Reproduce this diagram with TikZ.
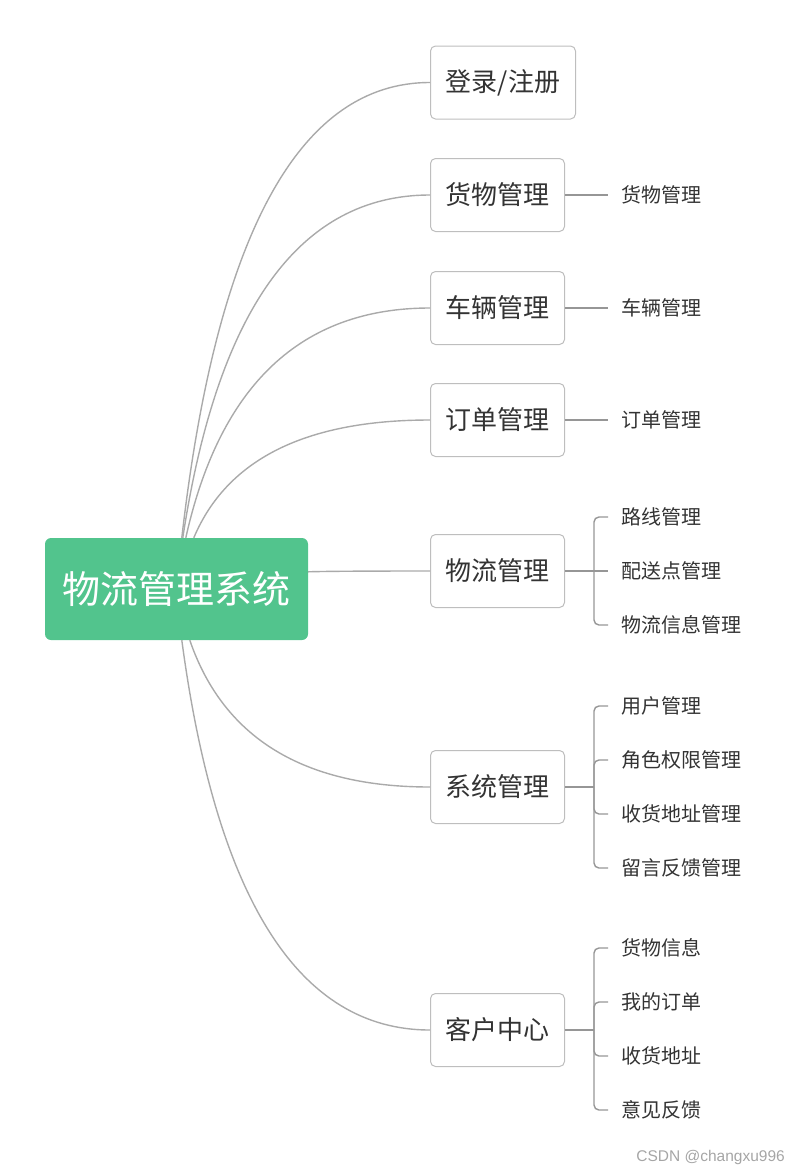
\documentclass[tikz,border=0pt]{standalone}
\usepackage{fontspec}
\setmainfont{Noto Sans CJK SC}
\newfontfamily\wmfont{Liberation Sans}
\usetikzlibrary{calc}
\definecolor{rootgreen}{RGB}{82,196,141}
\definecolor{boxborder}{RGB}{190,190,190}
\definecolor{txt}{RGB}{51,51,51}
\definecolor{curvecol}{RGB}{170,170,170}
\definecolor{sublinecol}{RGB}{150,150,150}
\definecolor{wmcol}{RGB}{165,165,165}
\tikzset{
  rootbox/.style={rectangle, rounded corners=6pt, fill=rootgreen, text=white,
    minimum width=263pt, minimum height=102pt, inner sep=0pt,
    font=\fontsize{38}{44}\selectfont},
  branchbox/.style={rectangle, rounded corners=5pt, draw=boxborder, line width=1pt,
    fill=white, text=txt, minimum height=73pt, inner sep=0pt, anchor=west,
    font=\fontsize{26}{30}\selectfont},
  leaf/.style={anchor=west, inner sep=0pt, text=txt, font=\fontsize{20}{24}\selectfont},
  curveline/.style={draw=curvecol, line width=1.4pt},
  subline/.style={draw=sublinecol, line width=1.4pt},
}
\newcommand\bcurve[2]{%
  \coordinate (tmpq) at ($(#1)!0.21!(#2)$);
  \coordinate (q) at (tmpq |- #2);
  \draw[curveline] (#1) .. controls ($(#1)!0.6667!(q)$) and ($(#2)!0.6667!(q)$) .. (#2);
}
\begin{document}
\begin{tikzpicture}[x=1pt,y=-1pt]
\useasboundingbox (0,0) rectangle (799,1176);

% root
\node[rootbox] (root) at (176.5,589) {物流管理系统};

% branch boxes
\node[branchbox, minimum width=145pt] (b1) at (430,82.5) {登录/注册};
\node[branchbox, minimum width=134pt] (b2) at (430,195) {货物管理};
\node[branchbox, minimum width=134pt] (b3) at (430,308) {车辆管理};
\node[branchbox, minimum width=134pt] (b4) at (430,420) {订单管理};
\node[branchbox, minimum width=134pt] (b5) at (430,571) {物流管理};
\node[branchbox, minimum width=134pt] (b6) at (430,787) {系统管理};
\node[branchbox, minimum width=134pt] (b7) at (430,1030) {客户中心};

% start points on the root
\coordinate (s1) at ($(root.north west)+(137,0)$);
\coordinate (s2) at ($(root.north west)+(138,0)$);
\coordinate (s3) at ($(root.north west)+(141,0)$);
\coordinate (s4) at ($(root.north west)+(149,0)$);
\coordinate (s5) at ($(root.north east)+(0,34)$);
\coordinate (s6) at ($(root.south west)+(145,0)$);
\coordinate (s7) at ($(root.south west)+(137,0)$);

\bcurve{s1}{b1.west}
\bcurve{s2}{b2.west}
\bcurve{s3}{b3.west}
\bcurve{s4}{b4.west}
\bcurve{s5}{b5.west}
\bcurve{s6}{b6.west}
\bcurve{s7}{b7.west}

% leaves
\node[leaf] (c21) at (621,195) {货物管理};
\node[leaf] (c31) at (621,308) {车辆管理};
\node[leaf] (c41) at (621,420) {订单管理};
\node[leaf] (c51) at (621,517) {路线管理};
\node[leaf] (c52) at (621,571) {配送点管理};
\node[leaf] (c53) at (621,625) {物流信息管理};
\node[leaf] (c61) at (621,706) {用户管理};
\node[leaf] (c62) at (621,760) {角色权限管理};
\node[leaf] (c63) at (621,814) {收货地址管理};
\node[leaf] (c64) at (621,868) {留言反馈管理};
\node[leaf] (c71) at (621,948) {货物信息};
\node[leaf] (c72) at (621,1002) {我的订单};
\node[leaf] (c73) at (621,1056) {收货地址};
\node[leaf] (c74) at (621,1110) {意见反馈};

% bracket points
\foreach \b in {2,...,7} {
  \coordinate (k\b) at ($(b\b.west)+(164,0)$);
  \draw[subline] (b\b.east) -- (k\b);
}
% straight ticks (child level with its parent)
\foreach \b/\c in {2/21,3/31,4/41,5/52} {
  \draw[subline] (k\b) -- ($(c\c.west)+(-13,0)$);
}
% rounded bracket ticks
\foreach \b/\c in {5/51,5/53,6/61,6/62,6/63,6/64,7/71,7/72,7/73,7/74} {
  \draw[subline, rounded corners=5pt] (k\b) |- ($(c\c.west)+(-13,0)$);
}

% watermark
\node[anchor=east, inner sep=0pt, text=wmcol, font=\wmfont\fontsize{15.5}{18}\selectfont] (wm) at (785,1157) {CSDN @changxu996};
\end{tikzpicture}
\end{document}
